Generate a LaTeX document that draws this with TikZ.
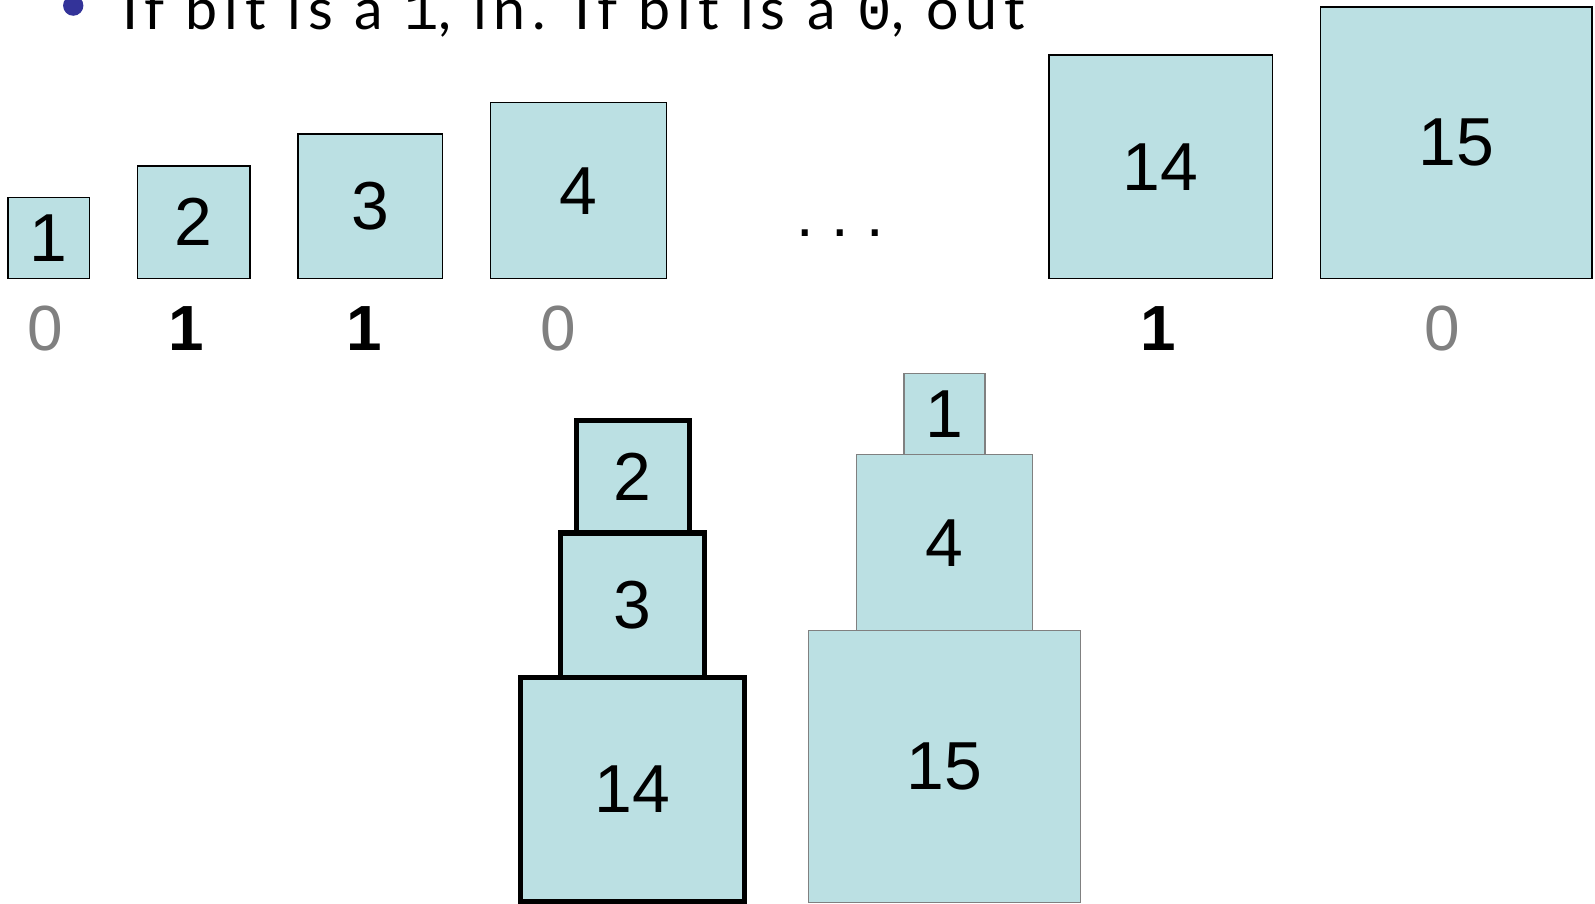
\documentclass[tikz,border=0pt]{standalone}
\usepackage{fontspec}
\setmainfont{Liberation Sans}
\newfontfamily\titlefont[LetterSpace=12]{Lato}
\newfontfamily\bitmono{Liberation Mono}
\usetikzlibrary{positioning}
\definecolor{boxfill}{RGB}{187,224,227}
\definecolor{bulletblue}{RGB}{51,51,153}
\def\mygap{47bp}
\tikzset{
x=1bp,y=1bp,
my box/.style={draw,fill=boxfill,rectangle,inner sep=0pt,outer sep=0pt,
  font=\fontsize{67}{80}\selectfont},
sq/.style={minimum width=#1bp,minimum height=#1bp},
top box/.style={my box,line width=1.5bp,anchor=south west},
in box/.style={my box,line width=5bp,anchor=south},   % taken: thick black
out box/.style={my box,draw=black!50,line width=1.5bp,anchor=south},
bit one/.style={font=\fontsize{63}{75}\selectfont\bfseries},
bit zero/.style={font=\fontsize{63}{75}\selectfont,text=black!50},
}
\begin{document}
\begin{tikzpicture}
\useasboundingbox (0,0) rectangle (1568,888);

% title line, cut at the top
\fill[bulletblue] (72,882.5) circle (10);
\node[anchor=base west,inner sep=0pt,font=\titlefont\fontsize{56.5}{64}\selectfont]
  (title) at (120,859) {If bit is a {\bitmono 1}, in. If bit is a {\bitmono 0}, out};

% row of boxes
\node[top box,sq=80]  (b1)  at (8,614)                                  {1};
\node[top box,sq=111] (b2)  [right=\mygap of b1.south east,anchor=south west] {2};
\node[top box,sq=142] (b3)  [right=\mygap of b2.south east,anchor=south west] {3};
\node[top box,sq=173] (b4)  [right=\mygap of b3.south east,anchor=south west] {4};
\node[anchor=base,inner sep=0pt,font=\fontsize{62}{70}\selectfont]
  (dots) at (826,655.3) {.\ .\ .};
\node[top box,sq=220] (b14) at (1031,614)                               {14};
\node[top box,sq=267] (b15) [right=\mygap of b14.south east,anchor=south west] {15};

% bits
\node[bit zero] (bit1)  at (44,565)   {0};
\node[bit one]  (bit2)  at (183,565)  {1};
\node[bit one]  (bit3)  at (358,565)  {1};
\node[bit zero] (bit4)  at (549,565)  {0};
\node[bit one]  (bit14) at (1139,565) {1};
\node[bit zero] (bit15) at (1418,565) {0};

% the two stacks
\node[in box,sq=220]  (in14)  at (622,2)                    {14};
\node[in box,sq=142]  (in3)   [above=0pt of in14.north]     {3};
\node[in box,sq=111]  (in2)   [above=0pt of in3.north]      {2};

\node[out box,sq=267] (out15) at (928.5,1)                  {15};
\node[out box,sq=173] (out4)  [above=0pt of out15.north]    {4};
\node[out box,sq=80]  (out1)  [above=0pt of out4.north]     {1};
\end{tikzpicture}
\end{document}
